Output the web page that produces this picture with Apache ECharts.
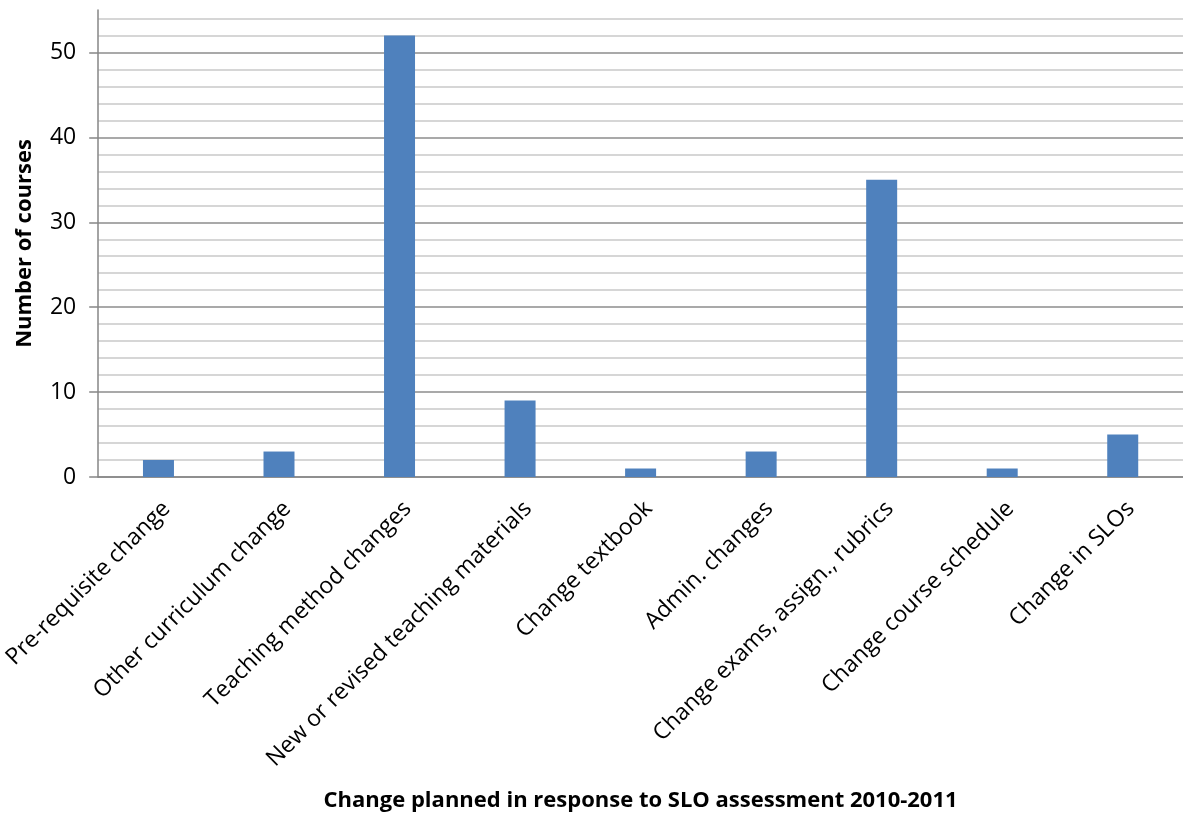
<!DOCTYPE html>
<html>
<head>
<meta charset="utf-8">
<script src="https://cdn.jsdelivr.net/npm/echarts@6/dist/echarts.min.js"></script>
<style>
  html, body { margin: 0; padding: 0; background: #fff; }
  #chart { width: 1183px; height: 817px; }
</style>
</head>
<body>
<div id="chart"></div>
<script>
// Planned changes and how many courses reported each one
const categories = [
  'Pre-requisite change',
  'Other curriculum change',
  'Teaching method changes',
  'New or revised teaching materials',
  'Change textbook',
  'Admin. changes',
  'Change exams, assign., rubrics',
  'Change course schedule',
  'Change in SLOs'
];
const courseCounts = [2, 3, 52, 9, 1, 3, 35, 1, 5];
const yTickLabels = [0, 10, 20, 30, 40, 50];

const FONT = '"Open Sans", Lato, sans-serif';
const AXIS_GREY = '#868686';

const chart = echarts.init(document.getElementById('chart'), null, { renderer: 'canvas' });
chart.setOption({
  animation: false,
  backgroundColor: '#ffffff',
  grid: { left: 98, right: 0, top: 10, bottom: 340, containLabel: false },
  xAxis: {
    type: 'category',
    data: categories,
    name: 'Change planned in response to SLO assessment 2010-2011',
    nameLocation: 'middle',
    nameGap: 313,
    nameTextStyle: { fontFamily: FONT, fontSize: 22, fontWeight: 'bold', color: '#000' },
    axisLine: { lineStyle: { color: AXIS_GREY, width: 1.5 } },
    axisTick: { show: false },
    axisLabel: {
      interval: 0,
      rotate: 45,
      margin: 20,
      verticalAlign: 'top',
      fontFamily: FONT,
      fontSize: 23,
      color: '#000'
    }
  },
  yAxis: [
    {
      // fine grid every 2 courses, darker line every 10
      type: 'value',
      min: 0,
      max: 55,
      interval: 2,
      axisLine: { show: false },
      axisTick: { show: false },
      axisLabel: { show: false },
      splitLine: {
        show: true,
        showMaxLine: false,
        lineStyle: {
          color: ['#8c8c8c', '#c8c8c8', '#c8c8c8', '#c8c8c8', '#c8c8c8'],
          width: 1.5
        }
      }
    },
    {
      type: 'value',
      position: 'left',
      min: 0,
      max: 55,
      interval: 10,
      name: 'Number of courses',
      nameLocation: 'middle',
      nameGap: 62,
      nameTextStyle: { fontFamily: FONT, fontSize: 22, fontWeight: 'bold', color: '#000' },
      axisLine: { show: true, lineStyle: { color: AXIS_GREY, width: 1.5 } },
      axisTick: {
        show: true,
        length: 9,
        customValues: yTickLabels,
        lineStyle: { color: AXIS_GREY, width: 1.5 }
      },
      axisLabel: {
        customValues: yTickLabels,
        margin: 22,
        fontFamily: FONT,
        fontSize: 23,
        color: '#000'
      },
      splitLine: { show: false }
    }
  ],
  series: [{
    type: 'bar',
    yAxisIndex: 0,
    data: courseCounts,
    barWidth: 31,
    itemStyle: { color: '#4f81bd' }
  }]
});
</script>
</body>
</html>
